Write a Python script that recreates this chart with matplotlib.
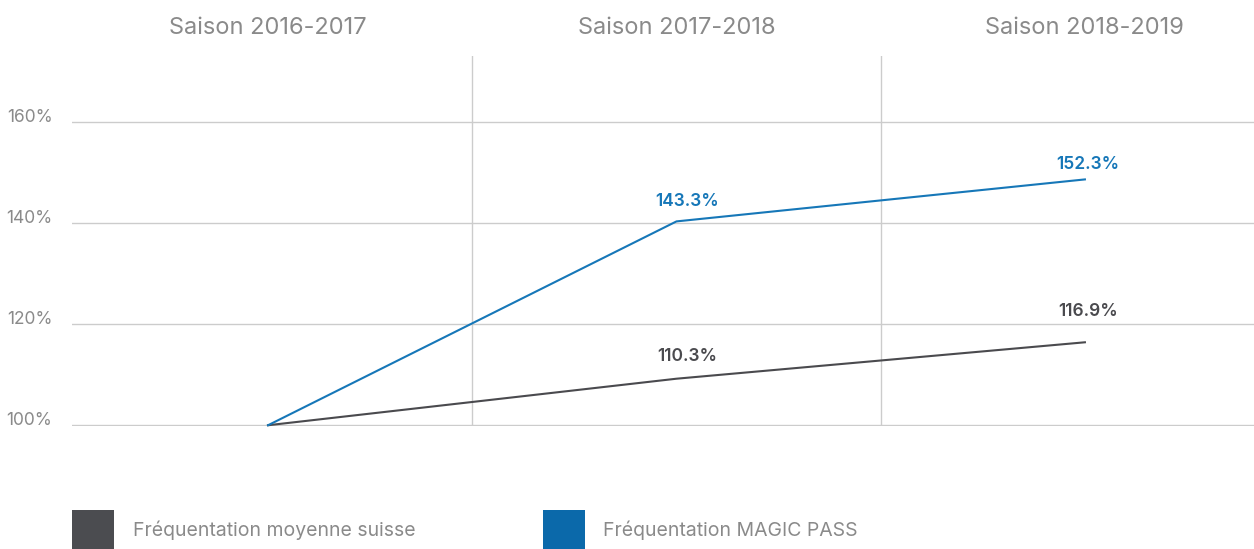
import matplotlib.pyplot as plt
from matplotlib.patches import Rectangle

# data
seasons = ['Saison 2016-2017', 'Saison 2017-2018', 'Saison 2018-2019']
suisse = [100, 109.2, 116.4]
magic = [100, 140.3, 148.6]
suisse_labels = ['', '110.3%', '116.9%']
magic_labels = ['', '143.3%', '152.3%']
yticks = [100, 120, 140, 160]
ytick_labels = ['100%', '120%', '140%', '160%']
legend_names = ['Fréquentation moyenne suisse', 'Fréquentation MAGIC PASS']

# style
plt.rcParams['font.family'] = ['Inter', 'DejaVu Sans']
c_grey_txt = '#8a8a8a'
c_grid = '#cccccc'
c_blue = '#1677b8'
c_dark = '#4a4a4e'
c_blue_sq = '#0b69aa'
c_dark_sq = '#4b4c50'

W, H = 1254, 549
fig = plt.figure(figsize=(W / 100, H / 100), dpi=100)
ax = fig.add_axes([72 / W, 123 / H, 1182 / W, 370 / H])

x = range(len(seasons))
ax.plot(x, suisse, color=c_dark, lw=1.5, clip_on=False, zorder=3)
ax.plot(x, magic, color=c_blue, lw=1.5, clip_on=False, zorder=3)

# value labels
for i, lab in enumerate(suisse_labels):
    if lab:
        dx = 8 if i == 1 else 2
        dy = 16 if i == 1 else 22
        ax.annotate(lab, (i, suisse[i]), xytext=(dx, dy), textcoords='offset points',
                    ha='center', va='center', fontsize=12.5, fontweight='semibold', color=c_dark)
for i, lab in enumerate(magic_labels):
    if lab:
        dx = 8 if i == 1 else 2
        dy = 14 if i == 1 else 11
        ax.annotate(lab, (i, magic[i]), xytext=(dx, dy), textcoords='offset points',
                    ha='center', va='center', fontsize=12.5, fontweight='semibold', color=c_blue)

ax.set_xlim(-0.48, 2.414)
ax.set_ylim(99.85, 173)

ax.set_yticks(yticks)
ax.set_yticklabels(ytick_labels, color=c_grey_txt, fontsize=12.5, va='baseline')
ax.grid(axis='y', color=c_grid, lw=1)
ax.set_axisbelow(True)
for xv in [0.5, 1.5]:
    ax.axvline(xv, color=c_grid, lw=1, zorder=0)

ax.set_xticks(list(x))
ax.set_xticklabels(seasons, color=c_grey_txt, fontsize=17)
ax.xaxis.tick_top()
ax.tick_params(axis='x', length=0, pad=12)
ax.tick_params(axis='y', length=0, pad=14)
for s in ax.spines.values():
    s.set_visible(False)

# legend made of squares
sq_x = [72, 543]
txt_x = [133, 603]
sq_col = [c_dark_sq, c_blue_sq]
for i, name in enumerate(legend_names):
    fig.add_artist(Rectangle((sq_x[i] / W, 0), 42 / W, 39 / H, transform=fig.transFigure,
                             color=sq_col[i], lw=0))
    fig.text(txt_x[i] / W, 1 - 530 / H, name, ha='left', va='center',
             fontsize=14, color=c_grey_txt)

fig.savefig('out.png', dpi=100)
